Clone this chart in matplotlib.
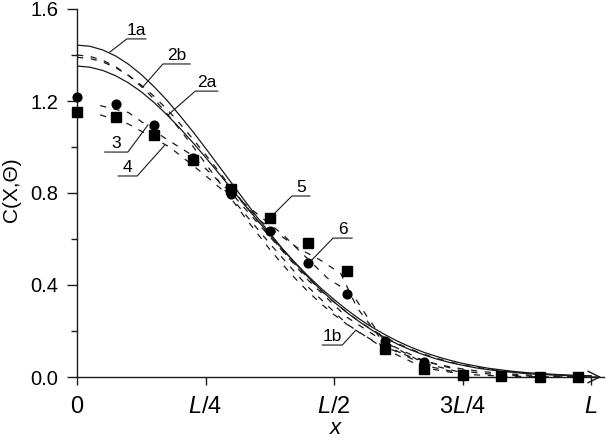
import numpy as np
import matplotlib
matplotlib.use("Agg")
import matplotlib.pyplot as plt
from matplotlib.ticker import FixedLocator

plt.rcParams['font.family'] = ['Liberation Sans', 'DejaVu Sans']
plt.rcParams['mathtext.fontset'] = 'custom'
plt.rcParams['mathtext.rm'] = 'Liberation Sans'
plt.rcParams['mathtext.it'] = 'Liberation Sans:italic'

# ---------------- data (x in units of L) ----------------
x_curve = np.linspace(0.0, 1.0, 41)
c_1a = [1.443, 1.438, 1.422, 1.396, 1.360, 1.315, 1.262, 1.203, 1.137, 1.068, 0.995,
        0.920, 0.845, 0.770, 0.696, 0.625, 0.557, 0.493, 0.433, 0.377, 0.326,
        0.280, 0.239, 0.202, 0.170, 0.141, 0.117, 0.096, 0.078, 0.063, 0.051,
        0.040, 0.032, 0.025, 0.020, 0.015, 0.012, 0.009, 0.007, 0.005, 0.004]
c_2a = [1.352, 1.347, 1.333, 1.310, 1.279, 1.240, 1.193, 1.140, 1.082, 1.020, 0.955,
        0.888, 0.820, 0.751, 0.684, 0.618, 0.555, 0.495, 0.438, 0.385, 0.337,
        0.292, 0.251, 0.215, 0.183, 0.154, 0.129, 0.107, 0.089, 0.073, 0.059,
        0.048, 0.038, 0.031, 0.024, 0.019, 0.015, 0.012, 0.009, 0.007, 0.005]
c_2b = [1.390, 1.385, 1.370, 1.345, 1.312, 1.269, 1.220, 1.164, 1.102, 1.036, 0.967,
        0.896, 0.824, 0.753, 0.683, 0.614, 0.549, 0.487, 0.429, 0.375, 0.326,
        0.281, 0.240, 0.204, 0.172, 0.144, 0.120, 0.099, 0.081, 0.066, 0.053,
        0.043, 0.034, 0.027, 0.021, 0.016, 0.013, 0.010, 0.007, 0.006, 0.004]
c_1b = [1.400, 1.394, 1.377, 1.349, 1.311, 1.263, 1.208, 1.145, 1.076, 1.004, 0.928,
        0.852, 0.775, 0.699, 0.626, 0.555, 0.489, 0.427, 0.370, 0.318, 0.271,
        0.229, 0.192, 0.159, 0.131, 0.107, 0.087, 0.070, 0.056, 0.044, 0.035,
        0.027, 0.021, 0.016, 0.012, 0.009, 0.007, 0.005, 0.004, 0.003, 0.002]

x_line3 = [0.045, 0.1, 0.17, 0.22, 0.3, 0.375, 0.45, 0.525, 0.6, 0.675, 0.75, 0.825, 0.9, 0.975]
y_line3 = [1.18, 1.15, 1.04, 0.97, 0.80, 0.61, 0.42, 0.26, 0.15, 0.07, 0.025, 0.008, 0.003, 0.001]
x_line4 = [0.045, 0.1, 0.18, 0.25, 0.3, 0.375, 0.45, 0.525, 0.6, 0.675, 0.75, 0.825, 0.9, 0.975]
y_line4 = [1.14, 1.10, 1.00, 0.876, 0.78, 0.58, 0.39, 0.23, 0.12, 0.04, 0.012, 0.004, 0.001, 0.0]
x_line5 = [0.3, 0.357, 0.43, 0.472, 0.513, 0.545, 0.6, 0.675, 0.75]
y_line5 = [0.81, 0.678, 0.56, 0.51, 0.45, 0.30, 0.14, 0.05, 0.015]
x_line6 = [0.3, 0.4, 0.487, 0.536, 0.565, 0.6, 0.675, 0.75]
y_line6 = [0.80, 0.62, 0.43, 0.36, 0.26, 0.15, 0.06, 0.018]

x_pts = [0.0, 0.075, 0.15, 0.225, 0.3, 0.375, 0.45, 0.525, 0.6, 0.675, 0.75, 0.825, 0.9, 0.975]
y_circ = [1.217, 1.187, 1.096, 0.952, 0.795, 0.635, 0.496, 0.36, 0.155, 0.065, 0.012, 0.004, 0.002, 0.001]
y_sq = [1.152, 1.13, 1.052, 0.943, 0.818, 0.69, 0.582, 0.46, 0.12, 0.035, 0.008, 0.004, 0.002, 0.001]

x_ticks = [0.0, 0.25, 0.5, 0.75, 1.0]
x_ticklabels = ['0', '$L$/4', '$L$/2', '3$L$/4', '$L$']
y_major = [0.0, 0.4, 0.8, 1.2, 1.6]
y_minor = [0.2, 0.6, 1.0, 1.4]

# label: text, curve point, elbow, underline end x
labels = [
    ('1a', (0.064, 1.413), (0.097, 1.470), 0.134),
    ('2b', (0.128, 1.261), (0.167, 1.361), 0.220),
    ('2a', (0.177, 1.139), (0.230, 1.243), 0.274),
    ('3',  (0.138, 1.096), (0.099, 0.978), 0.054),
    ('4',  (0.171, 1.009), (0.117, 0.874), 0.080),
    ('5',  (0.381, 0.704), (0.418, 0.787), 0.453),
    ('6',  (0.453, 0.500), (0.498, 0.604), 0.535),
    ('1b', (0.541, 0.200), (0.516, 0.139), 0.477),
]

# ---------------- figure ----------------
fig = plt.figure(figsize=(6.15, 4.4), dpi=100)
ax = fig.add_axes([77/615, 63/440, 527/615, 368/440])
ax.set_xlim(0, 1.025)
ax.set_ylim(0, 1.6)

col = '#1a1a1a'
lw = 0.9
dash = (0, (5, 6))

ax.plot(x_curve, c_1a, color=col, lw=lw)
ax.plot(x_curve, c_2a, color=col, lw=lw)
ax.plot(x_curve, c_2b, color=col, lw=lw, linestyle=dash)
ax.plot(x_curve, c_1b, color=col, lw=lw, linestyle=dash)
for xs, ys in [(x_line3, y_line3), (x_line4, y_line4), (x_line5, y_line5), (x_line6, y_line6)]:
    ax.plot(xs, ys, color=col, lw=lw, linestyle=dash)

ax.plot(x_pts, y_sq, linestyle='none', marker='s', ms=6.5, color='black', zorder=5, clip_on=False)
ax.plot(x_pts, y_circ, linestyle='none', marker='o', ms=6.3, color='black', zorder=6, clip_on=False)

for text, pt, elbow, xend in labels:
    ax.plot([pt[0], elbow[0], xend], [pt[1], elbow[1], elbow[1]], color=col, lw=0.8)
    ax.text((elbow[0] + xend) / 2, elbow[1] + 0.004, text, ha='center', va='bottom',
            fontsize=12.5, color='black')

# axes styling
for s in ['top', 'right']:
    ax.spines[s].set_visible(False)
for s in ['left', 'bottom']:
    ax.spines[s].set_linewidth(1.0)
    ax.spines[s].set_color(col)

ax.xaxis.set_major_locator(FixedLocator(x_ticks))
ax.set_xticklabels(x_ticklabels, fontsize=17)
ax.tick_params(axis='x', direction='out', length=6, width=1, pad=8, colors=col, labelcolor='black')

ax.yaxis.set_major_locator(FixedLocator(y_major))
ax.yaxis.set_minor_locator(FixedLocator(y_minor))
ax.set_yticklabels(['%.1f' % v for v in y_major], fontsize=14.5)
ax.tick_params(axis='y', which='major', direction='out', length=7.5, width=1, pad=6, colors=col, labelcolor='black')
ax.tick_params(axis='y', which='minor', direction='out', length=4.5, width=1, colors=col)

ax.annotate('', xy=(1.0, 0), xytext=(0.97, 0), xycoords='axes fraction',
            arrowprops=dict(arrowstyle='->,head_length=0.85,head_width=0.42', color=col, lw=1.0),
            annotation_clip=False)

fig.text(11/615, 1 - 190/440, 'C(X,Θ)', rotation=90, ha='center', va='center', fontsize=15)
fig.text(335/615, 1 - 428/440, 'x', style='italic', ha='center', va='center', fontsize=16)

fig.savefig('out.png', dpi=100)
